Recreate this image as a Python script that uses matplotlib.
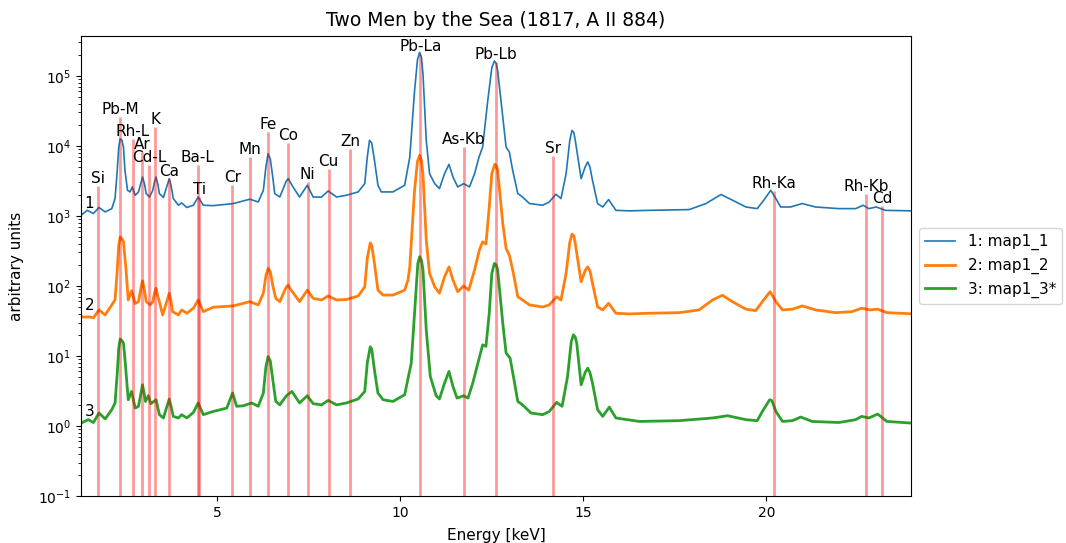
import matplotlib
matplotlib.use("Agg")
import matplotlib.pyplot as plt

title = "Two Men by the Sea (1817, A II 884)"
series_labels = ["1: map1_1", "2: map1_2", "3: map1_3*"]
series_tags = ["1", "2", "3"]

energy1 = [1.28, 1.45, 1.62, 1.77, 1.94, 2.12, 2.21, 2.27, 2.31, 2.35, 2.40, 2.44, 2.48, 2.55, 2.62, 2.68, 2.76, 2.85, 2.92, 2.96, 3.01, 3.06, 3.15, 3.24, 3.29, 3.33, 3.38, 3.42, 3.53, 3.64, 3.69, 3.74, 3.80, 3.94, 4.03, 4.17, 4.35, 4.48, 4.62, 4.89, 5.44, 5.89, 6.12, 6.26, 6.33, 6.39, 6.45, 6.52, 6.57, 6.71, 6.88, 6.94, 7.00, 7.07, 7.25, 7.46, 7.62, 7.85, 8.03, 8.26, 8.53, 8.85, 9.03, 9.10, 9.16, 9.22, 9.30, 9.39, 9.48, 9.80, 10.12, 10.26, 10.39, 10.47, 10.53, 10.58, 10.62, 10.71, 10.80, 10.94, 11.07, 11.21, 11.33, 11.44, 11.57, 11.73, 11.89, 12.03, 12.15, 12.25, 12.39, 12.50, 12.57, 12.62, 12.66, 12.80, 12.89, 12.98, 13.07, 13.21, 13.34, 13.53, 13.89, 14.07, 14.25, 14.39, 14.53, 14.63, 14.69, 14.74, 14.78, 14.94, 15.05, 15.12, 15.18, 15.25, 15.39, 15.53, 15.69, 15.89, 16.26, 16.80, 17.89, 18.35, 18.76, 19.07, 19.44, 19.75, 19.93, 20.12, 20.26, 20.39, 20.66, 20.98, 21.34, 21.98, 22.44, 22.64, 22.80, 23.00, 23.25, 23.95]
counts1 = [1020, 1200, 1080, 1320, 1140, 1270, 1770, 4470, 9500, 12600, 12000, 9500, 4470, 2320, 2200, 2590, 1970, 2200, 3000, 3590, 2900, 2085, 1860, 2320, 3100, 3590, 2800, 2085, 1830, 2800, 3400, 2700, 1770, 1420, 1530, 1320, 1420, 1860, 1420, 1400, 1500, 1730, 1580, 2320, 5000, 7700, 6500, 3500, 2085, 1860, 3100, 3400, 3000, 2590, 1860, 2740, 1860, 1860, 2270, 1860, 1970, 2200, 2890, 7000, 12000, 11000, 6000, 2740, 2200, 2200, 2740, 6900, 61000, 170000, 217000, 180000, 107000, 12000, 4010, 2890, 2450, 4010, 5450, 3590, 2590, 2890, 2590, 4010, 6900, 9600, 44500, 130000, 163000, 150000, 119000, 25800, 9600, 8150, 4470, 2085, 1860, 1500, 1420, 1580, 2040, 1770, 4010, 12000, 16600, 15500, 12000, 3400, 5000, 5890, 5000, 3220, 1500, 1340, 1710, 1200, 1180, 1200, 1230, 1500, 2020, 1680, 1340, 1270, 1680, 2320, 1770, 1340, 1340, 1500, 1340, 1270, 1270, 1420, 1270, 1340, 1200, 1180]

energy2 = [1.28, 1.53, 1.62, 1.77, 1.94, 2.12, 2.21, 2.27, 2.31, 2.35, 2.40, 2.44, 2.48, 2.51, 2.57, 2.66, 2.76, 2.85, 2.92, 2.96, 3.01, 3.06, 3.17, 3.24, 3.29, 3.33, 3.38, 3.42, 3.51, 3.64, 3.69, 3.74, 3.78, 3.94, 4.03, 4.17, 4.35, 4.48, 4.62, 4.89, 5.44, 5.89, 6.12, 6.26, 6.33, 6.39, 6.45, 6.52, 6.60, 6.71, 6.88, 6.94, 7.00, 7.12, 7.25, 7.46, 7.62, 7.85, 8.03, 8.26, 8.53, 8.85, 9.03, 9.10, 9.18, 9.22, 9.30, 9.39, 9.53, 9.80, 10.12, 10.21, 10.26, 10.39, 10.47, 10.53, 10.58, 10.62, 10.71, 10.80, 10.94, 11.07, 11.21, 11.33, 11.44, 11.57, 11.73, 11.87, 12.03, 12.16, 12.25, 12.34, 12.43, 12.50, 12.58, 12.62, 12.66, 12.80, 12.89, 12.98, 13.09, 13.21, 13.34, 13.53, 13.89, 14.07, 14.27, 14.39, 14.53, 14.63, 14.69, 14.74, 14.78, 14.94, 15.05, 15.12, 15.18, 15.25, 15.39, 15.53, 15.69, 15.89, 16.26, 16.80, 17.62, 18.16, 18.53, 18.80, 19.07, 19.44, 19.71, 19.89, 20.10, 20.26, 20.44, 20.71, 20.98, 21.34, 21.89, 22.34, 22.60, 22.84, 23.04, 23.29, 23.95]
counts2 = [36, 36, 35, 45.4, 38.5, 53.5, 63, 169, 380, 500, 470, 426, 250, 169, 63, 85, 56, 59.6, 95, 118, 90, 59.6, 53.5, 59.6, 80, 92.5, 70, 59.6, 38.5, 65, 78.6, 60, 42.9, 38.5, 45.4, 40.7, 48, 63, 42.9, 49.6, 51.8, 59.6, 53.5, 78.6, 140, 178, 160, 100, 66.5, 59.6, 95, 103, 90, 74, 59.6, 87, 66.5, 63, 71.8, 63, 64, 71.8, 97, 250, 412, 380, 200, 87, 74, 74, 87, 121, 187, 2320, 6000, 7330, 6200, 4010, 451, 151, 97, 78.6, 135, 187, 121, 82.6, 100, 87, 169, 325, 426, 395, 1340, 4000, 5450, 5200, 4470, 780, 343, 275, 151, 70, 63, 53.5, 50, 53.5, 70, 63, 151, 420, 550, 520, 404, 115, 165, 187, 165, 109, 50, 45.4, 56.5, 40.7, 39.8, 40.7, 41.5, 45.4, 63, 73.5, 59.6, 46.5, 44.4, 59.6, 82.6, 59.6, 45.4, 46.5, 51.8, 45.4, 41.5, 42.9, 48, 45.4, 46.5, 41.5, 40]

energy3 = [1.28, 1.48, 1.62, 1.77, 1.94, 2.12, 2.21, 2.27, 2.31, 2.35, 2.40, 2.44, 2.48, 2.51, 2.57, 2.66, 2.76, 2.85, 2.92, 2.96, 3.00, 3.04, 3.12, 3.19, 3.33, 3.42, 3.53, 3.64, 3.69, 3.74, 3.80, 3.94, 4.03, 4.17, 4.35, 4.48, 4.62, 4.89, 5.26, 5.42, 5.53, 5.71, 5.94, 6.12, 6.26, 6.33, 6.39, 6.45, 6.52, 6.60, 6.71, 6.89, 7.04, 7.25, 7.46, 7.62, 7.85, 8.03, 8.26, 8.53, 8.85, 9.03, 9.10, 9.18, 9.22, 9.30, 9.39, 9.53, 9.80, 10.12, 10.30, 10.42, 10.48, 10.53, 10.58, 10.62, 10.71, 10.82, 10.98, 11.07, 11.21, 11.33, 11.44, 11.55, 11.73, 11.85, 11.98, 12.12, 12.25, 12.34, 12.43, 12.50, 12.57, 12.62, 12.66, 12.80, 12.89, 13.00, 13.09, 13.21, 13.34, 13.57, 13.89, 14.07, 14.27, 14.42, 14.57, 14.67, 14.73, 14.78, 14.82, 14.94, 15.05, 15.12, 15.18, 15.25, 15.39, 15.53, 15.71, 15.89, 16.53, 17.62, 18.53, 18.94, 19.44, 19.75, 19.89, 20.09, 20.15, 20.26, 20.44, 20.71, 20.94, 21.25, 21.98, 22.44, 22.60, 22.80, 23.04, 23.29, 23.95]
counts3 = [1.10, 1.23, 1.12, 1.53, 1.26, 1.71, 2.13, 5.7, 13, 17.4, 16.5, 15.2, 9, 5.7, 2.37, 3.11, 1.80, 1.91, 3.0, 3.87, 3.0, 2.24, 2.7, 2.08, 2.37, 1.45, 1.30, 2.0, 2.43, 1.9, 1.37, 1.30, 1.45, 1.30, 1.56, 2.13, 1.45, 1.61, 1.80, 2.95, 1.91, 1.94, 2.13, 1.91, 2.95, 7, 9.8, 8.5, 4.5, 2.24, 2.0, 2.7, 3.11, 2.13, 2.7, 2.08, 2.0, 2.32, 2.0, 2.13, 2.43, 3.11, 8, 13.5, 12.5, 6, 2.95, 2.37, 2.24, 2.79, 7.9, 70, 210, 261, 230, 169, 23.4, 5.1, 2.7, 2.43, 4.1, 6.0, 3.66, 2.5, 2.7, 2.5, 4.1, 7.9, 14.4, 13.7, 40.7, 150, 209, 200, 169, 29.3, 11.0, 9.3, 5.1, 2.24, 2.0, 1.53, 1.45, 1.61, 2.17, 1.91, 5.1, 16, 20, 18.5, 15.2, 3.87, 5.8, 6.7, 5.8, 4.1, 1.71, 1.37, 1.86, 1.30, 1.16, 1.19, 1.30, 1.40, 1.23, 1.19, 1.61, 2.37, 2.3, 1.61, 1.16, 1.19, 1.34, 1.16, 1.12, 1.23, 1.37, 1.30, 1.48, 1.16, 1.10]

element_names = ["Si", "Pb-M", "Rh-L", "Ar", "Cd-L", "K", "Ca", "Ba-L", "Ti", "Cr", "Mn", "Fe", "Co", "Ni", "Cu", "Zn", "Pb-La", "As-Kb", "Pb-Lb", "Sr", "Rh-Ka", "Rh-Kb", "Cd"]
element_energies = [1.74, 2.345, 2.697, 2.957, 3.133, 3.313, 3.69, 4.466, 4.51, 5.41, 5.90, 6.40, 6.93, 7.47, 8.04, 8.63, 10.55, 11.73, 12.61, 14.16, 20.21, 22.72, 23.17]
element_heights = [2700, 26000, 12500, 8200, 5400, 18500, 3400, 5400, 1850, 2800, 7000, 16000, 11000, 3000, 4700, 8900, 205000, 9500, 160000, 7100, 2300, 2050, 1370]

fig = plt.figure(figsize=(10.66, 5.43), dpi=100)
ax = fig.add_axes([0.076, 0.0866, 0.7786, 0.847])

colors = ["#1f77b4", "#ff7f0e", "#2ca02c"]
widths = [1.2, 2.0, 2.0]
for e, c, col, lw, lab in zip([energy1, energy2, energy3], [counts1, counts2, counts3],
                              colors, widths, series_labels):
    ax.plot(e, c, color=col, lw=lw, label=lab)

for e, c, tag in zip([energy1, energy2, energy3], [counts1, counts2, counts3], series_tags):
    ax.text(e[0] + 0.1, c[0] * 1.15, tag, fontsize=11, ha="left", va="bottom")

ax.set_yscale("log")
ax.set_xlim(1.28, 23.95)
ax.set_ylim(0.1, 3.7e5)

ax.vlines(element_energies, 0.1, element_heights, colors="red", alpha=0.4, lw=2)
for name, en, h in zip(element_names, element_energies, element_heights):
    ax.text(en, h, name, fontsize=11, ha="center", va="bottom")

ax.set_title(title, fontsize=13.5, pad=7)
ax.set_xlabel("Energy [keV]", fontsize=11, labelpad=6)
ax.set_ylabel("arbitrary units", fontsize=11, labelpad=10)
ax.legend(loc="center left", bbox_to_anchor=(1.0, 0.5), fontsize=11)

fig.savefig("out.png", dpi=100)
